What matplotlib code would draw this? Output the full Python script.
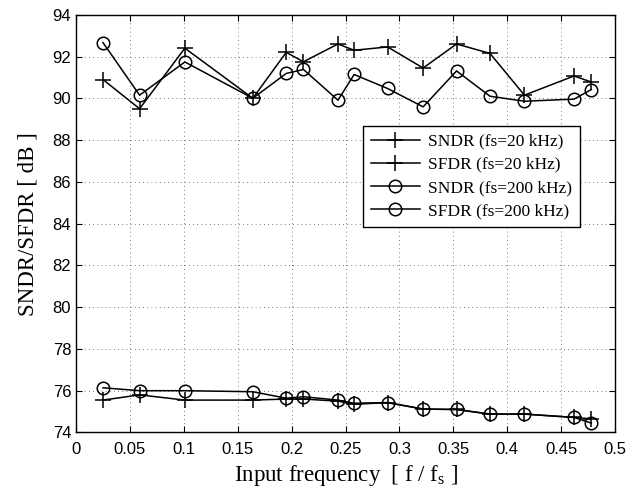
import numpy as np
from matplotlib import pyplot as plt

# frequences normalisees (f/fs)
freq = [0.025, 0.059, 0.101, 0.164, 0.195, 0.211, 0.243, 0.258,
        0.289, 0.322, 0.353, 0.384, 0.416, 0.462, 0.478]

sndr_20k = [75.55, 75.8, 75.55, 75.55, 75.6, 75.6, 75.5, 75.35,
            75.43, 75.12, 75.1, 74.88, 74.88, 74.72, 74.65]
sfdr_20k = [90.9, 89.5, 92.4, 90.0, 92.2, 91.75, 92.6, 92.3,
            92.46, 91.45, 92.6, 92.15, 90.15, 91.07, 90.78]
sndr_200k = [76.14, 76.0, 76.0, 75.95, 75.64, 75.71, 75.55, 75.4,
             75.43, 75.12, 75.1, 74.88, 74.88, 74.72, 74.45]
sfdr_200k = [92.67, 90.15, 91.74, 90.0, 91.19, 91.38, 89.91, 91.14,
             90.47, 89.59, 91.31, 90.1, 89.86, 89.96, 90.42]

xticks = [0, 0.05, 0.1, 0.15, 0.2, 0.25, 0.3, 0.35, 0.4, 0.45, 0.5]
yticks = [74, 76, 78, 80, 82, 84, 86, 88, 90, 92, 94]

fig = plt.figure(figsize=(6.44, 4.92), dpi=100)
ax = fig.add_axes([0.118, 0.121, 0.837, 0.849])

plus = dict(color='k', lw=1.1, marker='+', ms=11, mew=1.1)
rond = dict(color='k', lw=1.1, marker='o', ms=9, mew=1.1, fillstyle='none')

ax.plot(freq, sndr_20k, label='SNDR (fs=20 kHz)', **plus)
ax.plot(freq, sfdr_20k, label='SFDR (fs=20 kHz)', **plus)
ax.plot(freq, sndr_200k, label='SNDR (fs=200 kHz)', **rond)
ax.plot(freq, sfdr_200k, label='SFDR (fs=200 kHz)', **rond)

ax.set_xlim(0, 0.5)
ax.set_ylim(74, 94)
ax.set_xticks(xticks)
ax.set_yticks(yticks)
ax.set_xticklabels([('%g' % t) for t in xticks], family='Liberation Sans', fontsize=12)
ax.set_yticklabels([str(t) for t in yticks], family='Liberation Sans', fontsize=12)
ax.tick_params(direction='in', top=True, right=True, length=4, width=0.8)
ax.tick_params(axis='x', pad=7)
ax.grid(True, linestyle=(0, (1, 4)), color='k', lw=0.6, alpha=0.7)
for s in ax.spines.values():
    s.set_linewidth(1.0)

ax.set_xlabel(r'Input frequency  [ f / f$_\mathregular{s}$ ]', family='Liberation Serif',
              fontsize=16.5, labelpad=4)
ax.set_ylabel('SNDR/SFDR [ dB ]', family='Liberation Serif', fontsize=16.5, labelpad=10)

leg = ax.legend(loc='upper left', bbox_to_anchor=(0.517, 0.755),
                prop={'family': 'Liberation Serif', 'size': 12.5},
                fancybox=False, edgecolor='k', framealpha=1,
                handlelength=2.8, handletextpad=0.5, borderpad=0.45, labelspacing=0.4)
leg.get_frame().set_linewidth(1.0)

plt.savefig('out.png', dpi=100)
